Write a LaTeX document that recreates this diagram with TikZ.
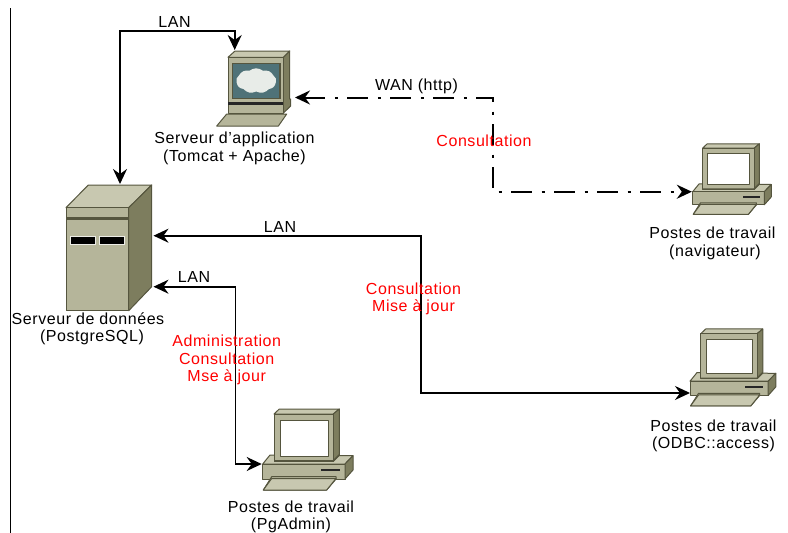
\documentclass[tikz,border=0pt]{standalone}
\usepackage{fontspec}
\setmainfont[LetterSpace=3.5]{Liberation Sans}
\usetikzlibrary{arrows.meta,shapes.symbols}
\definecolor{unitface}{RGB}{181,181,154}
\definecolor{unittop}{RGB}{200,200,176}
\definecolor{unitside}{RGB}{125,125,94}
\definecolor{unitline}{RGB}{85,85,62}
\definecolor{unitscreen}{RGB}{79,114,120}
\definecolor{unitcloud}{RGB}{232,236,232}
\tikzset{
  part/.style={draw=unitline,line width=1pt,line join=round},
  lab/.style={align=center,font=\fontsize{16}{17.5}\selectfont,text=black,inner sep=0pt},
  note/.style={align=center,font=\fontsize{16}{17.7}\selectfont,text=red,inner sep=0pt},
  arr/.style={{Stealth[length=15pt,width=14pt,inset=5pt]}-{Stealth[length=15pt,width=14pt,inset=5pt]},line width=1.6pt,draw=black},
  wan/.style={arr,line width=2pt,dash pattern=on 21pt off 9.5pt on 3pt off 9.5pt},
  % poste de travail, origine en haut a gauche
  pics/station/.style={code={
    \draw[part,fill=unittop] (0,56) -- (7.3,47) -- (90.3,47.7) -- (82.3,56) -- cycle;
    \draw[part,fill=unitface] (0,56) rectangle (82.3,71);
    \draw[part,fill=unitside] (82.3,56) -- (90.3,47.7) -- (90.3,62) -- (82.3,71) -- cycle;
    \fill[black!85] (58,61) rectangle (77.3,63.3);
    \draw[part,fill=unitface] (9,68.7) -- (73.3,68.7) -- (73.3,71) -- (64,82) -- (0.6,82) -- cycle;
    \draw[part,fill=unittop] (9,70.5) -- (73.3,70.5) -- (64,82) -- (0.6,82) -- cycle;
    \draw[part,fill=unittop] (11.3,6) -- (16.6,1) -- (76.6,1) -- (70.6,6) -- cycle;
    \draw[part,fill=unitside] (70.6,6) -- (76.6,1) -- (76.6,47) -- (70.6,53) -- cycle;
    \draw[part,fill=unitface] (11.3,6) rectangle (70.6,53);
    \draw[part,line width=1.6pt] (11.3,53) -- (70.6,53) -- (76.6,47);
    \draw[part,fill=white] (17.3,12) rectangle (65.6,48);
    \coordinate (-port) at (-1,56);
    \coordinate (-low) at (0,68.4);
  }},
  % serveur de donnees
  pics/dataserver/.style={code={
    \draw[part,fill=unittop] (0,22.7) -- (22.3,0) -- (85.7,0) -- (62.7,22.7) -- cycle;
    \draw[part,fill=unitside] (62.7,22.7) -- (85.7,0) -- (85.7,101.7) -- (62.7,125.7) -- cycle;
    \draw[part,fill=unitface] (0,22.7) rectangle (62.7,125.7);
    \fill[unitline] (0,32.3) rectangle (62.7,35);
    \draw[white!75!unitface,line width=1pt,fill=black] (4,51) rectangle (29,59);
    \draw[white!75!unitface,line width=1pt,fill=black] (33.3,51) rectangle (58,59);
    \coordinate (-top) at (54,-1);
    \coordinate (-lanb) at (87.5,50.7);
    \coordinate (-lanc) at (87.5,101.7);
  }},
  % serveur d'application
  pics/appserver/.style={code={
    \draw[part,fill=unitface] (10,63) -- (70,63) -- (61.7,75) -- (0,75) -- cycle;
    \draw[part,fill=unitside] (66.7,6.3) -- (73,0) -- (73,48) -- (74,48) -- (74,55) -- (66.7,62) -- cycle;
    \draw[part,fill=unittop] (11.3,6.3) -- (18.3,0) -- (73,0) -- (66.7,6.3) -- cycle;
    \draw[part,fill=unitface] (11.3,6.3) rectangle (66.7,62.3);
    \fill[black!85] (11.3,50.7) rectangle (66.7,54);
    \draw[unitline,line width=1.2pt,fill=unitscreen] (15.6,12.3) rectangle (63.3,47.3);
    \node[cloud,cloud puffs=9,cloud puff arc=80,aspect=1.7,fill=unitcloud,minimum width=40pt,minimum height=25pt,inner sep=0pt] (-cloud) at (39.5,29.8) {};
    \coordinate (-top) at (18,-1);
    \coordinate (-port) at (78.3,46.5);
  }},
}
\begin{document}
\begin{tikzpicture}[x=1pt,y=-1pt]
  \useasboundingbox (0,0) rectangle (788,533);
  \draw[line width=1pt] (10,8) -- (10,533);
  \pic (srvdata) at (66,185) {dataserver};
  \pic (srvapp) at (216.7,51) {appserver};
  \pic[scale=0.87,transform shape] (wsnav) at (692.7,143) {station};
  \pic[scale=0.95,transform shape] (wsodbc) at (690,328) {station};
  \pic (wspg) at (262.7,408) {station};
  \node[lab] (lblapp) at (234.5,148.5) {Serveur d'application\\(Tomcat + Apache)};
  \node[lab] (lbldata) at (88,329) {Serveur de données\\\hspace*{8pt}(PostgreSQL)};
  \node[lab] (lblnav) at (712.5,243.5) {Postes de travail\\\hspace*{5pt}(navigateur)};
  \node[lab] (lblodbc) at (713.5,436) {Postes de travail\\(ODBC::access)};
  \node[lab] (lblpg) at (291,517) {Postes de travail\\(PgAdmin)};
  \coordinate (lanbus) at (180,31);
  \coordinate (wanbend) at (492.7,140);
  \coordinate (lanodbc) at (420.7,300);
  \coordinate (lanpg) at (235.5,380);
  \draw[arr] (srvdata-top) |- (lanbus) -| (srvapp-top);
  \draw[wan] (srvapp-port) -| (wanbend) |- (wsnav-port);
  \draw[arr] (srvdata-lanb) -| (lanodbc) |- (wsodbc-low);
  \draw[arr] (srvdata-lanc) -| (lanpg) |- (wspg-port);
  \node[lab] (lan1) at (174.5,22) {LAN};
  \node[lab] (lan2) at (280,227) {LAN};
  \node[lab] (lan3) at (194,277) {LAN};
  \node[lab] (wantxt) at (416.5,86) {WAN (http)};
  \node[note] (note1) at (484,141) {Consultation};
  \node[note] (note2) at (413.5,299) {Consultation\\Mise à jour};
  \node[note] (note3) at (226.7,360) {Administration\\Consultation\\Mse à jour};
\end{tikzpicture}
\end{document}
